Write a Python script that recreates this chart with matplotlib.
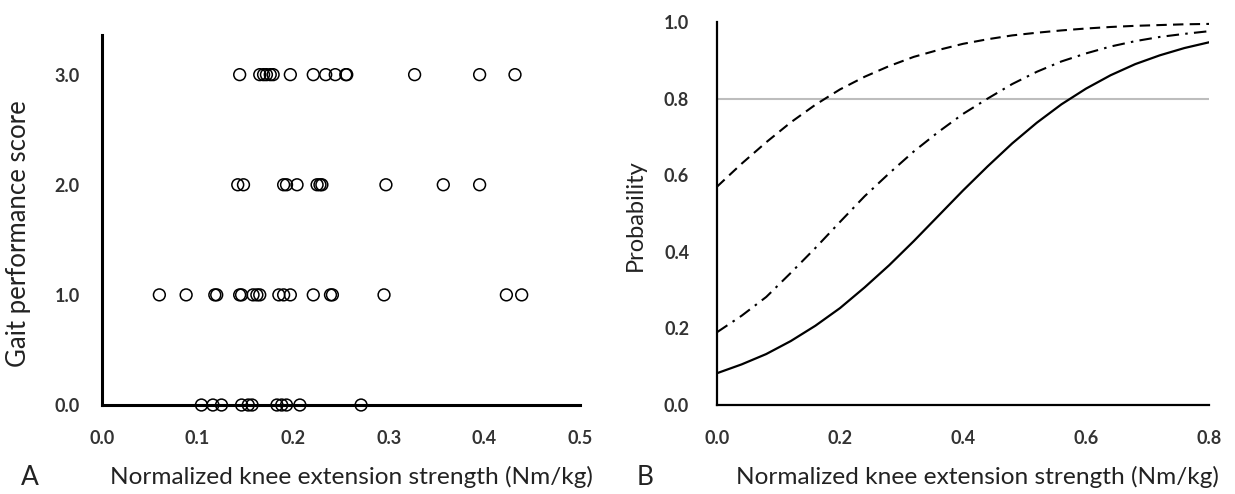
import numpy as np
import matplotlib
matplotlib.use('Agg')
import matplotlib.pyplot as plt

plt.rcParams['font.family'] = ['Lato', 'DejaVu Sans']

# Panel A: strength per gait score
strength_0 = [0.104, 0.116, 0.125, 0.146, 0.153, 0.157, 0.183, 0.188, 0.193, 0.207, 0.271]
strength_1 = [0.060, 0.088, 0.118, 0.120, 0.144, 0.146, 0.158, 0.162, 0.165, 0.185,
              0.190, 0.197, 0.221, 0.239, 0.241, 0.295, 0.423, 0.439]
strength_2 = [0.142, 0.148, 0.190, 0.193, 0.204, 0.225, 0.228, 0.230, 0.297, 0.357, 0.395]
strength_3 = [0.144, 0.165, 0.169, 0.172, 0.176, 0.179, 0.197, 0.221, 0.234, 0.244,
              0.255, 0.256, 0.327, 0.395, 0.432]
scores = [0.0, 1.0, 2.0, 3.0]

# Panel B: probability curves (read every 0.04 Nm/kg)
strength_grid = [0.00, 0.04, 0.08, 0.12, 0.16, 0.20, 0.24, 0.28, 0.32, 0.36, 0.40,
                 0.44, 0.48, 0.52, 0.56, 0.60, 0.64, 0.68, 0.72, 0.76, 0.80]
prob_dashed = [0.570, 0.630, 0.686, 0.738, 0.784, 0.824, 0.857, 0.885, 0.909, 0.927, 0.943,
               0.955, 0.965, 0.972, 0.978, 0.983, 0.987, 0.990, 0.992, 0.994, 0.995]
prob_dashdot = [0.190, 0.233, 0.282, 0.345, 0.410, 0.478, 0.545, 0.605, 0.662, 0.713, 0.760,
                0.800, 0.838, 0.870, 0.897, 0.918, 0.936, 0.950, 0.961, 0.969, 0.976]
prob_solid = [0.083, 0.106, 0.133, 0.167, 0.207, 0.253, 0.307, 0.365, 0.428, 0.494, 0.560,
              0.623, 0.683, 0.737, 0.785, 0.826, 0.861, 0.890, 0.913, 0.932, 0.947]
threshold = 0.8

W, H = 1235, 494
fig = plt.figure(figsize=(W/100, H/100), dpi=100)

tick_kw = dict(length=0, labelsize=13, labelcolor='#333333')

# ---- Panel A ----
ax1 = fig.add_axes([102/W, 1-405/H, (580-102)/W, (405-35)/H])
for s, xs in zip(scores, [strength_0, strength_1, strength_2, strength_3]):
    ax1.scatter(xs, [s]*len(xs), s=72, facecolors='none', edgecolors='black',
                linewidths=1.1, zorder=3, clip_on=False)
ax1.set_xlim(0, 0.5)
ax1.set_ylim(0, 3.36)
ax1.set_xticks([0.0, 0.1, 0.2, 0.3, 0.4, 0.5])
ax1.set_yticks(scores)
ax1.set_xticklabels(['0.0', '0.1', '0.2', '0.3', '0.4', '0.5'])
ax1.set_yticklabels(['0.0', '1.0', '2.0', '3.0'])
ax1.tick_params(axis='x', pad=18, **tick_kw)
ax1.tick_params(axis='y', pad=16, **tick_kw)
for lbl in ax1.get_xticklabels() + ax1.get_yticklabels():
    lbl.set_fontweight('bold')
for side in ['top', 'right']:
    ax1.spines[side].set_visible(False)
for side in ['left', 'bottom']:
    ax1.spines[side].set_linewidth(2.2)

# ---- Panel B ----
ax2 = fig.add_axes([717/W, 1-405/H, (1209-717)/W, (405-22)/H])
ax2.axhline(threshold, color='#bdbdbd', lw=1.5, zorder=1)
ax2.plot(strength_grid, prob_dashed, color='black', lw=1.5, ls=(0, (5, 3)))
ax2.plot(strength_grid, prob_dashdot, color='black', lw=1.5, ls=(0, (6, 3, 1.2, 3)))
ax2.plot(strength_grid, prob_solid, color='black', lw=1.6)
ax2.set_xlim(0, 0.8)
ax2.set_ylim(0, 1.0)
ax2.set_xticks([0.0, 0.2, 0.4, 0.6, 0.8])
ax2.set_yticks([0.0, 0.2, 0.4, 0.6, 0.8, 1.0])
ax2.set_xticklabels(['0.0', '0.2', '0.4', '0.6', '0.8'])
ax2.set_yticklabels(['0.0', '0.2', '0.4', '0.6', '0.8', '1.0'])
ax2.tick_params(axis='x', pad=18, **tick_kw)
ax2.tick_params(axis='y', pad=20, **tick_kw)
for lbl in ax2.get_xticklabels() + ax2.get_yticklabels():
    lbl.set_fontweight('bold')
for side in ['top', 'right']:
    ax2.spines[side].set_visible(False)
for side in ['left', 'bottom']:
    ax2.spines[side].set_linewidth(1.6)

# axis titles and panel letters
xlabel = 'Normalized knee extension strength (Nm/kg)'
fig.text(19/W, 1-234/H, 'Gait performance score', fontsize=18.5, rotation=90,
         va='center', ha='center', color='#222222')
fig.text(635/W, 1-215/H, 'Probability', fontsize=17, rotation=90,
         va='center', ha='center', color='#222222')
fig.text(30/W, 1-477/H, 'A', fontsize=19, va='center', ha='center', color='#222222')
fig.text(110/W, 1-477/H, xlabel, fontsize=17.6, va='center', ha='left', color='#222222')
fig.text(645/W, 1-477/H, 'B', fontsize=19, va='center', ha='center', color='#222222')
fig.text(736/W, 1-477/H, xlabel, fontsize=17.6, va='center', ha='left', color='#222222')

fig.savefig('out.png', dpi=100)
